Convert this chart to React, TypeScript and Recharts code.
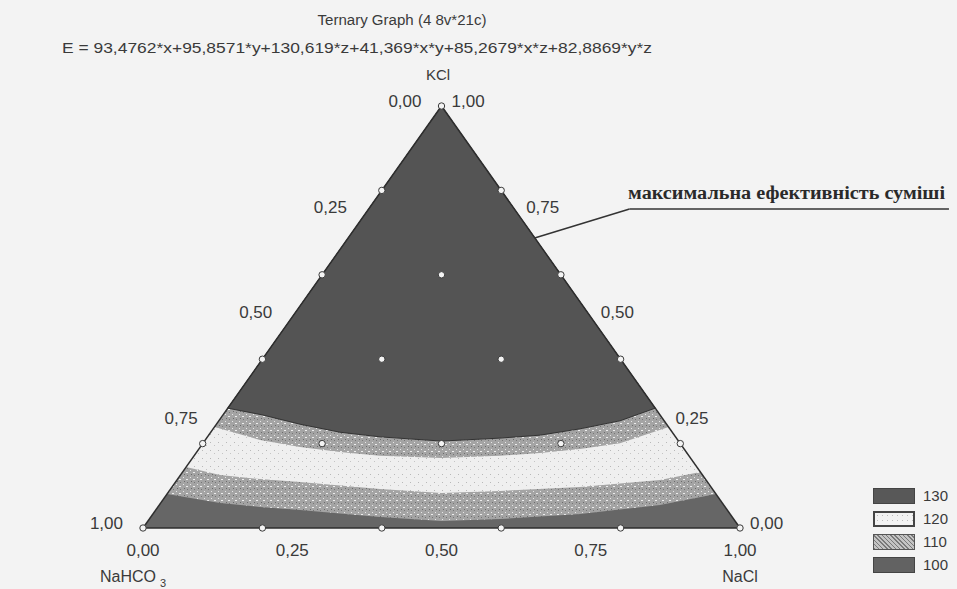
import React from "react";
import { ComposedChart, Area, Scatter, XAxis, YAxis, ReferenceLine } from "recharts";

const title = "Ternary Graph (4 8v*21c)";
const formula = "E = 93,4762*x+95,8571*y+130,619*z+41,369*x*y+85,2679*x*z+82,8869*y*z";
const note = "максимальна ефективність суміші";

// ternary ticks (same labels on the three sides)
const tickValues = [0, 0.25, 0.5, 0.75, 1];
const tickLabels = ["0,00", "0,25", "0,50", "0,75", "1,00"];

// 21 design points of the plan: NaCl share and KCl share (NaHCO3 = the rest)
const designNaCl = [0, 0.2, 0.4, 0.6, 0.8, 1, 0, 0.2, 0.4, 0.6, 0.8, 0, 0.2, 0.4, 0.6, 0, 0.2, 0.4, 0, 0.2, 0];
const designKCl = [0, 0, 0, 0, 0, 0, 0.2, 0.2, 0.2, 0.2, 0.2, 0.4, 0.4, 0.4, 0.4, 0.6, 0.6, 0.6, 0.8, 0.8, 1];

// contour boundaries: [position along the base, KCl share]
const darkTopEdge = [[0.142, 0.284], [0.2, 0.268], [0.263, 0.246], [0.33, 0.227], [0.397, 0.216], [0.5, 0.206], [0.598, 0.213], [0.665, 0.22], [0.732, 0.235], [0.799, 0.254], [0.858, 0.284]];
const whiteTopEdge = [[0.1196, 0.2393], [0.196, 0.2085], [0.263, 0.192], [0.33, 0.18], [0.397, 0.171], [0.5, 0.166], [0.598, 0.171], [0.665, 0.178], [0.732, 0.187], [0.799, 0.201], [0.8804, 0.2393]];
const whiteBottomEdge = [[0.0722, 0.1445], [0.129, 0.1256], [0.196, 0.116], [0.263, 0.109], [0.397, 0.0924], [0.5, 0.083], [0.598, 0.0877], [0.732, 0.0972], [0.866, 0.114], [0.9337, 0.1327]];
const darkBottomEdge = [[0.0402, 0.0806], [0.129, 0.0592], [0.196, 0.05], [0.263, 0.0427], [0.397, 0.026], [0.5, 0.0166], [0.598, 0.0213], [0.732, 0.0332], [0.866, 0.0545], [0.9598, 0.0806]];

const legendLevels = ["130", "120", "110", "100"];

const W = 957;
const H = 589;
const FONT = "'Liberation Sans', Arial, sans-serif";
const INK = "#3a3a3a";

// top side of the triangle at a base position
const apex = (x: number) => (x <= 0.5 ? 2 * x : 2 * (1 - x));
const band = (pts: number[][]) => pts.map(([x, k]) => ({ x, r: [k, apex(x)] }));
const triangle = [0, 0.5, 1].map((x) => ({ x, r: [0, apex(x)] }));

const designPts = designNaCl.map((n, i) => ({ x: n + designKCl[i] / 2, y: designKCl[i] }));
const bottomTicks = tickValues.map((v, i) => ({ x: v, y: 0, label: tickLabels[i] }));
const leftTicks = tickValues.map((v, i) => ({ x: (1 - v) / 2, y: 1 - v, label: tickLabels[i] }));
const rightTicks = tickValues.map((v, i) => ({ x: 1 - v / 2, y: v, label: tickLabels[i] }));

const tickText = (dx: number, dy: number, anchor: string) => (p: any) => (
  <text x={p.cx + dx} y={p.cy + dy} textAnchor={anchor} fontSize={17} fill={INK} fontFamily={FONT}>
    {p.payload.label}
  </text>
);

const swatch: Record<string, React.CSSProperties> = {
  "130": { background: "#585858", border: "1px solid #444" },
  "120": { background: "radial-gradient(#bbb 0.6px, transparent 0.8px) 0 0 / 5px 5px, #f2f2f2", border: "2px solid #444" },
  "110": { background: "repeating-linear-gradient(45deg, #7a7a7a 0 1px, #c4c4c4 1px 3px)", border: "1px solid #555" },
  "100": { background: "#626262", border: "1px solid #444" },
};

export default function App() {
  return (
    <div style={{ position: "absolute", left: 0, top: 0, width: W, height: H, background: "#f3f3f3", overflow: "hidden" }}>
      <ComposedChart width={W} height={H} margin={{ top: 106, right: 217, bottom: 61, left: 143 }}>
        <defs>
          <pattern id="speck" width="7" height="7" patternUnits="userSpaceOnUse">
            <rect width="7" height="7" fill="#a4a4a4" />
            <rect x="1" y="1" width="1" height="1" fill="#e6e6e6" />
            <rect x="4" y="3" width="2" height="1" fill="#ededed" />
            <rect x="2" y="5" width="1" height="1" fill="#6c6c6c" />
            <rect x="5" y="6" width="1" height="1" fill="#767676" />
          </pattern>
          <pattern id="light" width="8" height="8" patternUnits="userSpaceOnUse">
            <rect width="8" height="8" fill="#efefef" />
            <rect x="2" y="2" width="1" height="1" fill="#b8b8b8" />
            <rect x="6" y="5" width="1" height="1" fill="#c4c4c4" />
          </pattern>
        </defs>
        <XAxis type="number" dataKey="x" domain={[0, 1]} hide />
        <YAxis type="number" dataKey="y" domain={[0, 1]} hide />

        <Area data={triangle} dataKey="r" type="linear" stroke="none" fill="#666666" fillOpacity={1} dot={false} activeDot={false} isAnimationActive={false} />
        <Area data={band(darkBottomEdge)} dataKey="r" type="linear" stroke="none" fill="url(#speck)" fillOpacity={1} dot={false} activeDot={false} isAnimationActive={false} />
        <Area data={band(whiteBottomEdge)} dataKey="r" type="linear" stroke="none" fill="url(#light)" fillOpacity={1} dot={false} activeDot={false} isAnimationActive={false} />
        <Area data={band(whiteTopEdge)} dataKey="r" type="linear" stroke="none" fill="url(#speck)" fillOpacity={1} dot={false} activeDot={false} isAnimationActive={false} />
        <Area data={band(darkTopEdge)} dataKey="r" type="linear" stroke="#333" strokeWidth={1} fill="#545454" fillOpacity={1} dot={false} activeDot={false} isAnimationActive={false} />

        <ReferenceLine segment={[{ x: 0, y: 0 }, { x: 0.5, y: 1 }]} stroke="#2e2e2e" strokeWidth={1.5} />
        <ReferenceLine segment={[{ x: 0.5, y: 1 }, { x: 1, y: 0 }]} stroke="#2e2e2e" strokeWidth={1.5} />
        <ReferenceLine segment={[{ x: 0, y: 0 }, { x: 1, y: 0 }]} stroke="#2e2e2e" strokeWidth={1.5} />

        <ReferenceLine segment={[{ x: 0.656, y: 0.687 }, { x: 0.815, y: 0.756 }]} stroke="#333" strokeWidth={1.5} ifOverflow="visible" />
        <ReferenceLine segment={[{ x: 0.815, y: 0.756 }, { x: 1.35, y: 0.756 }]} stroke="#333" strokeWidth={1.5} ifOverflow="visible" />

        <Scatter
          data={designPts}
          isAnimationActive={false}
          shape={(p: any) => <circle cx={p.cx} cy={p.cy} r={3.2} fill="#f4f4f4" stroke="#3a3a3a" strokeWidth={1} />}
        />
        <Scatter data={bottomTicks} isAnimationActive={false} shape={tickText(0, 28, "middle")} />
        <Scatter data={leftTicks} isAnimationActive={false} shape={tickText(-20, 1, "end")} />
        <Scatter data={rightTicks} isAnimationActive={false} shape={tickText(10, 1, "start")} />
      </ComposedChart>

      <svg width={W} height={H} style={{ position: "absolute", left: 0, top: 0, pointerEvents: "none" }}>
        <text x={402} y={25} textAnchor="middle" fontSize={14} fill={INK} fontFamily={FONT} textLength={169} lengthAdjust="spacingAndGlyphs">
          {title}
        </text>
        <text x={357} y={53} textAnchor="middle" fontSize={15} fill={INK} fontFamily={FONT} textLength={590} lengthAdjust="spacingAndGlyphs">
          {formula}
        </text>
        <text x={438} y={80} textAnchor="middle" fontSize={15} fill={INK} fontFamily={FONT}>KCl</text>
        <text x={100} y={582} fontSize={16} fill={INK} fontFamily={FONT}>
          NaHCO<tspan dx={4} dy={5} fontSize={11}>3</tspan>
        </text>
        <text x={740} y={582} textAnchor="middle" fontSize={16} fill={INK} fontFamily={FONT}>NaCl</text>
        <text x={628} y={199} fontSize={18} fontWeight="bold" fill="#2a2a2a" fontFamily="'Liberation Serif', 'Times New Roman', serif" textLength={317} lengthAdjust="spacingAndGlyphs">
          {note}
        </text>
      </svg>

      <div style={{ position: "absolute", left: 873, top: 484, fontFamily: FONT, fontSize: 15, color: INK }}>
        {legendLevels.map((lv) => (
          <div key={lv} style={{ display: "flex", alignItems: "center", height: 23 }}>
            <div style={{ width: 42, height: 16, boxSizing: "border-box", ...swatch[lv] }} />
            <span style={{ marginLeft: 8 }}>{lv}</span>
          </div>
        ))}
      </div>
    </div>
  );
}
